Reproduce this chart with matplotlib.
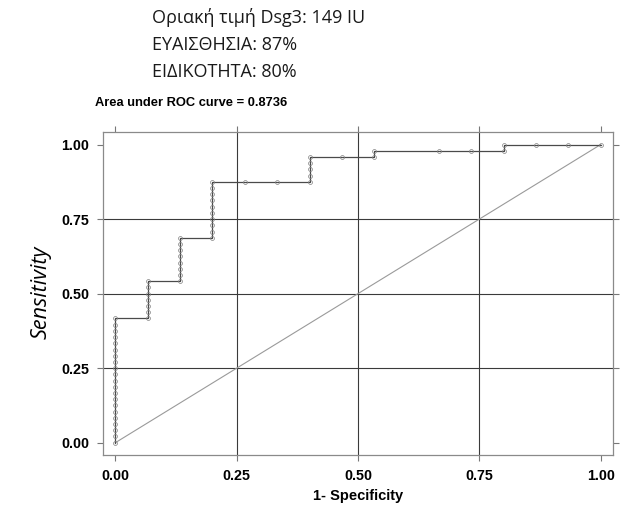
import matplotlib
matplotlib.use("Agg")
import matplotlib.pyplot as plt

# ROC points as counts: false positives (of 15 negatives), true positives (of 48 positives)
n_neg = 15
n_pos = 48
fp_counts = [0] * 21 + [1] * 7 + [2] * 8 + [3] * 10 + [4, 5] + [6] * 5 + [7, 8, 8, 10, 11, 12, 12, 13, 14, 15]
tp_counts = (list(range(0, 21)) + list(range(20, 27)) + list(range(26, 34)) + list(range(33, 43))
             + [42, 42] + list(range(42, 47)) + [46, 46, 47, 47, 47, 47, 48, 48, 48, 48])

header_lines = ["Οριακή τιμή Dsg3: 149 IU", "ΕΥΑΙΣΘΗΣΙΑ: 87%", "ΕΙΔΙΚΟΤΗΤΑ: 80%"]
auc_text = "Area under ROC curve = 0.8736"
ticks = [0.0, 0.25, 0.5, 0.75, 1.0]
tick_labels = ["0.00", "0.25", "0.50", "0.75", "1.00"]

fpr = [c / n_neg for c in fp_counts]
tpr = [c / n_pos for c in tp_counts]

fig = plt.figure(figsize=(6.27, 5.08), dpi=100)
ax = fig.add_axes([0.164, 0.104, 0.814, 0.636])

ax.set_xlim(-0.026, 1.026)
ax.set_ylim(-0.042, 1.042)

for t in ticks[1:4]:
    ax.axvline(t, color="#3a3a3a", lw=0.8, zorder=1)
    ax.axhline(t, color="#3a3a3a", lw=0.8, zorder=1)

ax.plot([0, 1], [0, 1], color="#9a9a9a", lw=0.8, zorder=2)
ax.plot(fpr, tpr, color="#4a4a4a", lw=0.9, marker="o", ms=2.8, mfc="none",
        mec="#808080", mew=0.5, zorder=3)

ax.set_xticks(ticks)
ax.set_yticks(ticks)
ax.set_xticklabels(tick_labels, fontweight="bold", fontsize=10.3, family="Liberation Sans")
ax.set_yticklabels(tick_labels, fontweight="bold", fontsize=10.3, family="Liberation Sans")
ax.tick_params(direction="out", length=4, width=0.8, color="#777777", pad=6,
               top=True, right=True)
for s in ax.spines.values():
    s.set_color("#8a8a8a")
    s.set_linewidth(0.9)

ax.set_xlabel("1- Specificity", fontweight="bold", fontsize=10.5, family="Liberation Sans", labelpad=4)
fig.text(0.066, 0.424, "Sensitivity", rotation=90, style="italic", fontsize=15.5,
         family="Open Sans", ha="center", va="center")

fig.text(0.152, 0.797, auc_text, fontweight="bold", fontsize=9.3, family="Liberation Sans",
         ha="left", va="center")

for i, line in enumerate(header_lines):
    fig.text(0.243, 0.966 - i * 0.054, line, fontsize=13, family="Open Sans",
             ha="left", va="center", color="#1a1a1a")

fig.savefig("out.png", dpi=100)
